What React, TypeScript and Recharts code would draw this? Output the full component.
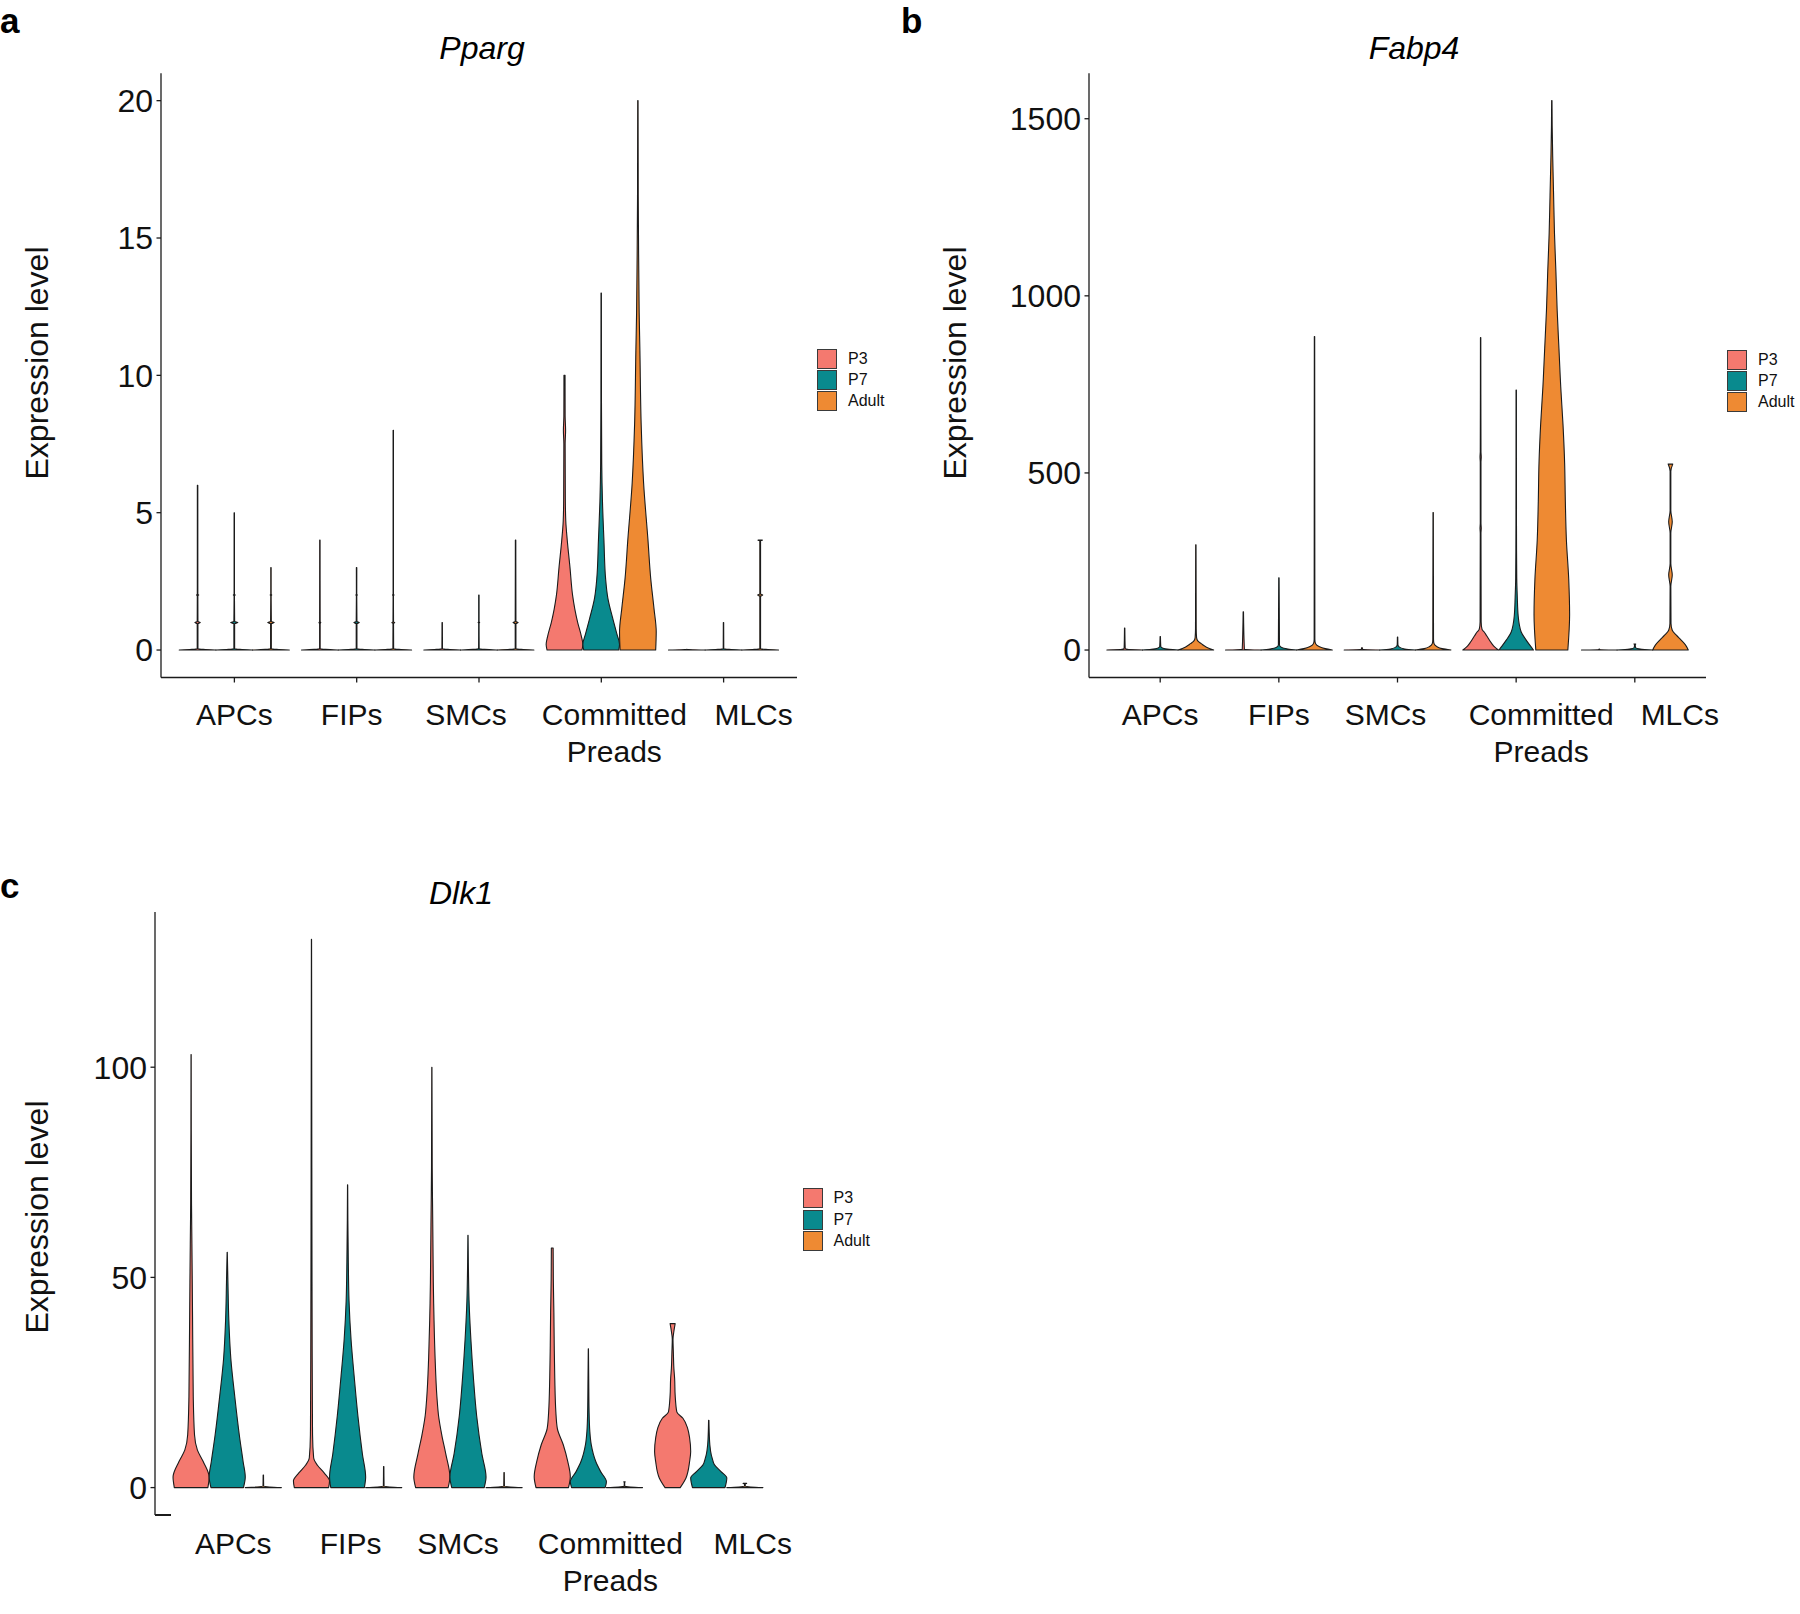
import React from 'react';
import { BarChart, Bar, XAxis, YAxis, Legend } from 'recharts';

// each violin: [expression value, half-width as fraction of the slot], bottom to top
type Profile = [number, number][];

const categories = ['APCs', 'FIPs', 'SMCs', 'Committed Preads', 'MLCs'];
const groups = ['P3', 'P7', 'Adult'];
const groupColors = ['#F4796F', '#098A8E', '#EE8A33'];

// Pparg
const ppargP3: Profile[] = [
  [[0, 1], [0.05, 0.02], [0.96, 0.02], [1, 0.15], [1.04, 0.02], [1.98, 0.015], [2, 0.06], [2.02, 0.015], [6, 0.012]],
  [[0, 1], [0.05, 0.015], [0.97, 0.015], [1, 0.05], [1.03, 0.015], [4, 0.01]],
  [[0, 1], [0.05, 0.015], [1, 0.01]],
  [[0, 0.95], [0.2, 1], [0.5, 0.92], [1, 0.72], [1.5, 0.56], [2, 0.44], [3, 0.3], [4, 0.15], [4.7, 0.07], [5.5, 0.045], [7.5, 0.035], [8, 0.06], [8.5, 0.035], [10, 0.03]],
  [[0, 1], [0.02, 0.015], [0.03, 0.01]],
];
const ppargP7: Profile[] = [
  [[0, 1], [0.05, 0.02], [0.96, 0.02], [1, 0.2], [1.04, 0.02], [1.98, 0.01], [2, 0.05], [2.02, 0.01], [5, 0.01]],
  [[0, 1], [0.05, 0.02], [0.96, 0.02], [1, 0.15], [1.04, 0.02], [1.98, 0.01], [2, 0.04], [2.02, 0.01], [3, 0.012]],
  [[0, 1], [0.05, 0.015], [0.98, 0.01], [1, 0.04], [1.02, 0.01], [2, 0.01]],
  [[0, 0.95], [0.2, 1], [0.6, 0.85], [1.1, 0.65], [1.9, 0.36], [2.6, 0.24], [4, 0.15], [5.4, 0.07], [6.8, 0.03], [9, 0.015], [13, 0.01]],
  [[0, 1], [0.05, 0.015], [1, 0.01]],
];
const ppargAdult: Profile[] = [
  [[0, 1], [0.05, 0.02], [0.96, 0.02], [1, 0.18], [1.04, 0.02], [1.98, 0.01], [2, 0.04], [2.02, 0.01], [3, 0.01]],
  [[0, 1], [0.05, 0.02], [0.97, 0.015], [1, 0.08], [1.03, 0.015], [1.98, 0.01], [2, 0.04], [2.02, 0.01], [8, 0.01]],
  [[0, 1], [0.05, 0.02], [0.96, 0.02], [1, 0.14], [1.04, 0.02], [4, 0.012]],
  [[0, 0.97], [0.67, 1], [1.5, 0.88], [2.6, 0.7], [4, 0.55], [6.1, 0.31], [8.2, 0.18], [10.9, 0.11], [12.3, 0.07], [14.4, 0.04], [16.5, 0.02], [20, 0.01]],
  [[0, 1], [0.05, 0.02], [1.96, 0.02], [2, 0.14], [2.04, 0.02], [3.97, 0.02], [4, 0.12]],
];
const ppargTicks = [0, 5, 10, 15, 20];

// Fabp4
const fabp4P3: Profile[] = [
  [[0, 1], [2, 0.15], [5, 0.03], [62, 0.01]],
  [[0, 1], [2, 0.06], [108, 0.01]],
  [[0, 1], [2, 0.05], [7, 0.01]],
  [[0, 1], [8, 0.8], [20, 0.6], [41, 0.33], [51, 0.2], [58, 0.08], [80, 0.03], [330, 0.02], [344, 0.035], [358, 0.02], [530, 0.02], [545, 0.035], [560, 0.02], [882, 0.01]],
  [[0, 1], [1, 0.05], [3, 0.01]],
];
const fabp4P7: Profile[] = [
  [[0, 1], [2, 0.5], [5, 0.15], [10, 0.03], [38, 0.01]],
  [[0, 1], [3, 0.5], [7, 0.15], [14, 0.03], [204, 0.01]],
  [[0, 1], [3, 0.4], [8, 0.1], [15, 0.02], [37, 0.01]],
  [[0, 0.97], [8, 0.85], [28, 0.56], [51, 0.28], [96, 0.11], [150, 0.06], [203, 0.03], [350, 0.015], [734, 0.01]],
  [[0, 1], [3, 0.3], [7, 0.04], [14, 0.02], [17, 0.05]],
];
const fabp4Adult: Profile[] = [
  [[0, 1], [8, 0.6], [18, 0.3], [25, 0.12], [35, 0.04], [60, 0.02], [297, 0.01]],
  [[0, 1], [4, 0.6], [10, 0.25], [18, 0.06], [30, 0.02], [885, 0.01]],
  [[0, 1], [4, 0.5], [10, 0.2], [18, 0.05], [30, 0.02], [388, 0.01]],
  [[0, 0.9], [100, 1], [200, 0.95], [310, 0.82], [420, 0.76], [528, 0.72], [635, 0.63], [744, 0.5], [852, 0.4], [960, 0.3], [1068, 0.23], [1176, 0.15], [1284, 0.1], [1393, 0.05], [1480, 0.02], [1551, 0.01]],
  [[0, 1], [14, 0.85], [28, 0.6], [42, 0.33], [56, 0.1], [75, 0.03], [180, 0.02], [212, 0.1], [244, 0.02], [330, 0.02], [362, 0.1], [394, 0.02], [505, 0.02], [525, 0.13]],
];
const fabp4Ticks = [0, 500, 1000, 1500];

// Dlk1
const dlk1P3: Profile[] = [
  [[0, 0.93], [2.5, 1], [6.2, 0.67], [8.9, 0.35], [12.5, 0.19], [21.6, 0.12], [35.3, 0.09], [48.9, 0.065], [58, 0.045], [67, 0.025], [85, 0.01], [103, 0.005]],
  [[0, 0.95], [1.6, 1], [3.5, 0.7], [5.3, 0.33], [7.1, 0.12], [12.5, 0.06], [30.7, 0.04], [48.9, 0.03], [76, 0.02], [130.4, 0.005]],
  [[0, 0.9], [2.5, 1], [8, 0.77], [12.5, 0.55], [17.1, 0.37], [21.6, 0.28], [30.7, 0.18], [39.8, 0.12], [48.9, 0.08], [62.5, 0.05], [76, 0.02], [100, 0.005]],
  [[0, 0.9], [2.6, 1], [6.2, 0.86], [10.2, 0.61], [14.1, 0.28], [18, 0.2], [26, 0.14], [33.8, 0.11], [41.7, 0.09], [49.6, 0.06], [57, 0.05]],
  [[0, 0.42], [2.3, 0.74], [6.2, 0.94], [8.6, 1], [11.8, 0.94], [14.1, 0.83], [16.5, 0.57], [18, 0.23], [22, 0.14], [26, 0.11], [28.3, 0.07], [32.2, 0.04], [35.3, 0.02], [36.9, 0.06], [39, 0.14]],
];
const dlk1P7: Profile[] = [
  [[0, 0.9], [2.5, 1], [6.2, 0.88], [12.5, 0.67], [21.6, 0.42], [30.7, 0.2], [39.8, 0.09], [48.9, 0.04], [56, 0.005]],
  [[0, 0.93], [2.5, 1], [8, 0.82], [17.1, 0.57], [26.2, 0.37], [35.3, 0.19], [44.4, 0.08], [53.5, 0.04], [72, 0.005]],
  [[0, 0.9], [2.5, 1], [8, 0.77], [17.1, 0.48], [26.2, 0.3], [35.3, 0.16], [44.4, 0.06], [53.5, 0.02], [60, 0.005]],
  [[0, 0.93], [1.4, 1], [3.8, 0.68], [6.2, 0.41], [10.2, 0.16], [13.4, 0.08], [18, 0.04], [26, 0.02], [33, 0.005]],
  [[0, 0.9], [2.3, 1], [3.8, 0.68], [5.4, 0.32], [7, 0.19], [7.8, 0.14], [10.2, 0.06], [12.6, 0.03], [16, 0.01]],
];
const dlk1Adult: Profile[] = [
  [[0, 1], [0.3, 0.02], [3, 0.01]],
  [[0, 1], [0.3, 0.02], [5, 0.01]],
  [[0, 1], [0.3, 0.02], [3.6, 0.01]],
  [[0, 1], [0.3, 0.02], [1.2, 0.01], [1.35, 0.04]],
  [[0, 1], [0.3, 0.02], [0.9, 0.02], [1, 0.1]],
];
const dlk1Ticks = [0, 50, 100];

const FONT = '"Liberation Sans", Arial, Helvetica, sans-serif';
const INK = '#1b1b1b';
const Y_AXIS_W = 60;
const X_AXIS_H = 100;

const topOf = (p: Profile) => p[p.length - 1][0];

function monotoneSlopes(s: number[], w: number[]): number[] {
  const n = s.length;
  const m = new Array(n).fill(0);
  if (n < 2) return m;
  const d: number[] = [];
  for (let i = 0; i < n - 1; i++) d.push((w[i + 1] - w[i]) / (s[i + 1] - s[i]));
  if (n === 2) return [d[0], d[0]];
  for (let i = 1; i < n - 1; i++) {
    const h0 = s[i] - s[i - 1];
    const h1 = s[i + 1] - s[i];
    const p = (d[i - 1] * h1 + d[i] * h0) / (h0 + h1);
    m[i] = (Math.sign(d[i - 1]) + Math.sign(d[i])) * Math.min(Math.abs(d[i - 1]), Math.abs(d[i]), 0.5 * Math.abs(p)) || 0;
  }
  m[0] = (3 * d[0] - m[1]) / 2;
  m[n - 1] = (3 * d[n - 2] - m[n - 2]) / 2;
  return m;
}

function violinPath(cx: number, base: number, halfW: number, pxPerUnit: number, profile: Profile) {
  const s = profile.map((p) => p[0] * pxPerUnit);
  const w = profile.map((p) => Math.max(p[1], 0) * halfW);
  const m = monotoneSlopes(s, w);
  const n = s.length;
  const pt = (side: number, si: number, wi: number) =>
    `${(cx + side * Math.max(wi, 0)).toFixed(2)},${(base - si).toFixed(2)}`;
  let d = `M${pt(-1, s[0], w[0])}`;
  for (let i = 0; i < n - 1; i++) {
    const h = s[i + 1] - s[i];
    d += `C${pt(-1, s[i] + h / 3, w[i] + (m[i] * h) / 3)} ${pt(-1, s[i + 1] - h / 3, w[i + 1] - (m[i + 1] * h) / 3)} ${pt(-1, s[i + 1], w[i + 1])}`;
  }
  d += `L${pt(1, s[n - 1], w[n - 1])}`;
  for (let i = n - 2; i >= 0; i--) {
    const h = s[i + 1] - s[i];
    d += `C${pt(1, s[i + 1] - h / 3, w[i + 1] - (m[i + 1] * h) / 3)} ${pt(1, s[i] + h / 3, w[i] + (m[i] * h) / 3)} ${pt(1, s[i], w[i])}`;
  }
  return d + 'Z';
}

const violinShape = (profiles: Profile[]) => (props: any) => {
  const { x, y, width, height, fill, payload } = props;
  const idx = categories.indexOf(payload?.category);
  const profile = profiles[idx];
  if (!profile || !width) return <g />;
  const h = Math.abs(height);
  const base = height >= 0 ? y + height : y;
  const top = topOf(profile);
  return (
    <path
      d={violinPath(x + width / 2, base, width / 2, top > 0 ? h / top : 0, profile)}
      fill={fill}
      stroke={INK}
      strokeWidth={1.1}
      strokeLinejoin="round"
    />
  );
};

const CategoryTick = (props: any) => {
  const { x, y, payload, shifts, dy } = props;
  const idx = categories.indexOf(payload.value);
  const lines = String(payload.value).split(' ');
  return (
    <text x={x + (shifts[idx] || 0)} y={y + dy} textAnchor="middle" fontFamily={FONT} fontSize={30} fill="#111">
      {lines.map((l, i) => (
        <tspan key={l} x={x + (shifts[idx] || 0)} dy={i === 0 ? 0 : 36.5}>
          {l}
        </tspan>
      ))}
    </text>
  );
};

const legendContent = () => (
  <div style={{ fontFamily: FONT, fontSize: 16, color: '#111', lineHeight: 1 }}>
    {groups.map((g, i) => (
      <div key={g} style={{ display: 'flex', alignItems: 'center', height: 21.3 }}>
        <span
          style={{
            display: 'inline-block',
            width: 20,
            height: 20,
            boxSizing: 'border-box',
            background: groupColors[i],
            border: '1px solid #3a3a3a',
          }}
        />
        <span style={{ marginLeft: 11 }}>{g}</span>
      </div>
    ))}
  </div>
);

interface PanelProps {
  profiles: Profile[][];
  ticks: number[];
  left: number;
  top: number;
  width: number;
  height: number;
  plot: { left: number; right: number; top: number; bottom: number };
  shifts: number[];
  labelDy: number;
  showXLine: boolean;
  legendAt: [number, number];
  yLabelAt: [number, number];
}

function ViolinPanel(p: PanelProps) {
  const max = Math.max(...p.profiles.flat().map(topOf));
  const domain = [-0.05 * max, 1.05 * max];
  const data = categories.map((c, i) => {
    const row: Record<string, any> = { category: c };
    groups.forEach((g, gi) => (row[g] = topOf(p.profiles[gi][i])));
    return row;
  });
  const plotW = p.plot.right - p.plot.left;
  const band = plotW / 5.2;
  const pad = band * 0.1;
  const axisStyle = { stroke: INK, strokeWidth: 1.3 };
  return (
    <div style={{ position: 'absolute', left: p.left, top: p.top }}>
      <BarChart
        width={p.width}
        height={p.height}
        data={data}
        margin={{
          top: p.plot.top,
          right: p.width - p.plot.right,
          bottom: p.height - p.plot.bottom - X_AXIS_H,
          left: p.plot.left - Y_AXIS_W,
        }}
        barGap={0}
        barSize={band * 0.3}
      >
        <XAxis
          dataKey="category"
          height={X_AXIS_H}
          padding={{ left: pad, right: pad }}
          interval={0}
          axisLine={p.showXLine ? axisStyle : false}
          tickLine={p.showXLine ? axisStyle : false}
          tickSize={5}
          tickMargin={0}
          tick={(t: any) => <CategoryTick {...t} shifts={p.shifts} dy={p.labelDy} />}
        />
        <YAxis
          type="number"
          domain={domain}
          ticks={p.ticks}
          width={Y_AXIS_W}
          allowDataOverflow
          axisLine={axisStyle}
          tickLine={axisStyle}
          tickSize={4.5}
          tickMargin={3.5}
          tick={{ fill: '#111', fontSize: 32, fontFamily: FONT }}
          label={{
            content: () => (
              <text
                x={p.yLabelAt[0]}
                y={p.yLabelAt[1]}
                transform={`rotate(-90 ${p.yLabelAt[0]} ${p.yLabelAt[1]})`}
                textAnchor="middle"
                dominantBaseline="central"
                fontFamily={FONT}
                fontSize={32}
                fill="#111"
              >
                Expression level
              </text>
            ),
          }}
        />
        <Legend
          layout="horizontal"
          verticalAlign="middle"
          align="center"
          wrapperStyle={{ left: p.legendAt[0], top: p.legendAt[1], width: 90, height: 66 }}
          content={legendContent}
        />
        {groups.map((g, gi) => (
          <Bar
            key={g}
            dataKey={g}
            name={g}
            fill={groupColors[gi]}
            shape={violinShape(p.profiles[gi])}
            isAnimationActive={false}
          />
        ))}
      </BarChart>
    </div>
  );
}

export default function App() {
  return (
    <div style={{ position: 'absolute', left: 0, top: 0, width: 1800, height: 1614, background: '#fff' }}>
      <ViolinPanel
        profiles={[ppargP3, ppargP7, ppargAdult]}
        ticks={ppargTicks}
        left={0}
        top={0}
        width={900}
        height={800}
        plot={{ left: 161, right: 797, top: 73.2, bottom: 677.5 }}
        shifts={[0, -5, -13, 13, 30]}
        labelDy={42.5}
        showXLine
        legendAt={[817, 348]}
        yLabelAt={[36.5, 363]}
      />
      <ViolinPanel
        profiles={[fabp4P3, fabp4P7, fabp4Adult]}
        ticks={fabp4Ticks}
        left={900}
        top={0}
        width={900}
        height={800}
        plot={{ left: 189, right: 806, top: 73.2, bottom: 677.5 }}
        shifts={[0, 0, -12, 25, 45]}
        labelDy={42.5}
        showXLine
        legendAt={[827, 349]}
        yLabelAt={[54.5, 363]}
      />
      <ViolinPanel
        profiles={[dlk1P3, dlk1P7, dlk1Adult]}
        ticks={dlk1Ticks}
        left={0}
        top={860}
        width={900}
        height={754}
        plot={{ left: 155, right: 781, top: 52, bottom: 655 }}
        shifts={[6, 3, -10, 22, 44]}
        labelDy={34}
        showXLine={false}
        legendAt={[802.5, 327.6]}
        yLabelAt={[36.5, 357]}
      />
      <div style={{ position: 'absolute', left: 155, top: 1514.3, width: 16, height: 1.3, background: INK }} />
      <svg width={1800} height={1614} style={{ position: 'absolute', left: 0, top: 0, pointerEvents: 'none' }}>
        <g fontFamily={FONT} fill="#000">
          <text x={0} y={33} fontSize={35} fontWeight="bold">a</text>
          <text x={901} y={33} fontSize={35} fontWeight="bold">b</text>
          <text x={0} y={898} fontSize={35} fontWeight="bold">c</text>
          <text x={482} y={59} fontSize={32} fontStyle="italic" textAnchor="middle">Pparg</text>
          <text x={1414} y={59} fontSize={32} fontStyle="italic" textAnchor="middle">Fabp4</text>
          <text x={461} y={904} fontSize={32} fontStyle="italic" textAnchor="middle">Dlk1</text>
        </g>
      </svg>
    </div>
  );
}
